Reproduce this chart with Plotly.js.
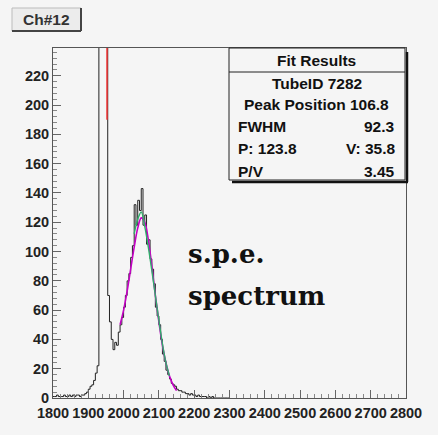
<!DOCTYPE html>
<html><head><meta charset="utf-8">
<script src="https://cdn.plot.ly/plotly-3.0.1.min.js"></script>
<style>html,body{margin:0;padding:0;background:#f5f5f5;}#chart{width:438px;height:435px;}</style>
</head><body><div id="chart"></div>
<script>
// Histogram: 5-channel bins starting at 1800
const binStart = 1800;
const binWidth = 5;
const counts = [
  1,1,2,1,1,1,2,1,1,2,1,2,1,2,2,1,2,2,3,4,
  6,8,9,12,17,22,
  380,1650,2900,1400,310,
  70,52,40,33,38,36,45,50,55,62,
  70,80,85,96,104,132,118,135,128,143,
  118,125,105,108,95,88,78,62,56,50,
  40,30,25,19,16,13,10,9,8,6,
  5,5,4,4,3,3,2,3,2,2,
  1,2,1,1,1,1,0,1,0,1,
  0,0,0,0,0,0,0,0,0
];
// Fit curve 1 (magenta)
const fit1X = [1990,2000,2010,2020,2030,2040,2050,2060,2070,2080,2090,2100,2110,2120,2130,2140,2150];
const fit1Y = [50,60,73,88,103,116,123,120,108,90,70,52,36,24,15,9,5];
// Fit curve 2 (green)
const fit2X = [2030,2040,2050,2060,2070,2080,2090,2100,2110,2120,2130];
const fit2Y = [112,122,127,117,103,87,70,53,37,24,15];
// Red marker line
const markerX = [1953,1953];
const markerY = [190,260];
// Axis ticks
const xTickVals = [1800,1900,2000,2100,2200,2300,2400,2500,2600,2700,2800];
const xTickText = ['1800','1900','2000','2100','2200','2300','2400','2500','2600','2700','2800'];
const yTickVals = [0,20,40,60,80,100,120,140,160,180,200,220];
const yTickText = ['0','20','40','60','80','100','120','140','160','180','200','220'];
// Texts
const buttonLabel = 'Ch#12';
const statTitle = 'Fit Results';
const statRows = [
  ['TubeID 7282', null],
  ['Peak Position 106.8', null],
  ['FWHM', '92.3'],
  ['P: 123.8', 'V: 35.8'],
  ['P/V', '3.45']
];
const noteLines = ['s.p.e.', 'spectrum'];

// step histogram points
const hx = [], hy = [];
for (let i = 0; i < counts.length; i++) { hx.push(binStart + i*binWidth); hy.push(counts[i]); }
hx.push(binStart + counts.length*binWidth); hy.push(counts[counts.length-1]);

// pixel -> paper helpers
const L = 53, R = 406, T = 48, B = 398;
const px = x => (x - L) / (R - L);
const py = y => (B - y) / (B - T);

const traces = [
  {x: hx, y: hy, type: 'scatter', mode: 'lines', line: {shape: 'hv', color: '#222', width: 1}, hoverinfo: 'skip'},
  {x: fit1X, y: fit1Y, type: 'scatter', mode: 'lines', line: {shape: 'spline', color: '#c400c4', width: 1.6}},
  {x: fit2X, y: fit2Y, type: 'scatter', mode: 'lines', line: {shape: 'spline', color: '#2fae6a', width: 1.4}},
  {x: markerX, y: markerY, type: 'scatter', mode: 'lines', line: {color: '#f03030', width: 1.5}}
];

const tickFont = {family: 'Liberation Sans, Arial, sans-serif', size: 14.5, color: '#222', weight: 700};
const boxFont = {family: 'Liberation Sans, Arial, sans-serif', size: 15.5, color: '#111', weight: 700};

const annotations = [];
annotations.push({xref:'paper', yref:'paper', x: px(46), y: py(19.5), text: buttonLabel, showarrow:false, xanchor:'center', yanchor:'middle', font:{family:'Liberation Sans, Arial, sans-serif', size:15.5, color:'#333', weight:700}});
annotations.push({xref:'paper', yref:'paper', x: px(316), y: py(60.5), text: statTitle, showarrow:false, xanchor:'center', yanchor:'middle', font: boxFont});
const rowY = [83, 104, 126, 148, 171];
statRows.forEach((r, i) => {
  if (r[1] === null) {
    annotations.push({xref:'paper', yref:'paper', x: px(i===0 ? 317 : 316), y: py(rowY[i]), text: r[0], showarrow:false, xanchor:'center', yanchor:'middle', font: boxFont});
  } else {
    annotations.push({xref:'paper', yref:'paper', x: px(236), y: py(rowY[i]), text: r[0], showarrow:false, xanchor:'left', yanchor:'middle', font: boxFont});
    annotations.push({xref:'paper', yref:'paper', x: px(397), y: py(rowY[i]), text: r[1], showarrow:false, xanchor:'right', yanchor:'middle', font: boxFont});
  }
});
annotations.push({xref:'paper', yref:'paper', x: px(186), y: py(254), text: noteLines[0], showarrow:false, xanchor:'left', yanchor:'middle', font:{family:'DejaVu Serif, serif', size:26, color:'#111', weight:700}});
annotations.push({xref:'paper', yref:'paper', x: px(186), y: py(296), text: noteLines[1], showarrow:false, xanchor:'left', yanchor:'middle', font:{family:'DejaVu Serif, serif', size:26, color:'#111', weight:700}});

const shapes = [
  // button
  {type:'rect', xref:'paper', yref:'paper', x0:px(12), x1:px(81), y0:py(8), y1:py(31), fillcolor:'#ececec', line:{color:'#bbb', width:1}, layer:'above'},
  {type:'line', xref:'paper', yref:'paper', x0:px(81), x1:px(81), y0:py(8), y1:py(31), line:{color:'#444', width:2}},
  {type:'line', xref:'paper', yref:'paper', x0:px(12), x1:px(81), y0:py(31), y1:py(31), line:{color:'#444', width:2}},
  // stat box
  {type:'rect', xref:'paper', yref:'paper', x0:px(229), x1:px(405), y0:py(48), y1:py(180), fillcolor:'#f5f5f5', line:{color:'#222', width:1}, layer:'above'},
  {type:'line', xref:'paper', yref:'paper', x0:px(229), x1:px(405), y0:py(72), y1:py(72), line:{color:'#222', width:1}},
  {type:'line', xref:'paper', yref:'paper', x0:px(407), x1:px(407), y0:py(52), y1:py(182), line:{color:'#111', width:2.5}},
  {type:'line', xref:'paper', yref:'paper', x0:px(232), x1:px(408), y0:py(182), y1:py(182), line:{color:'#111', width:2.5}}
];

const layout = {
  width: 438, height: 435,
  margin: {l: L, r: 438 - R, t: T, b: 435 - B, pad: 0},
  paper_bgcolor: '#f5f5f5', plot_bgcolor: '#f5f5f5',
  showlegend: false,
  xaxis: {range: [1800, 2800], tickmode: 'array', tickvals: xTickVals, ticktext: xTickText, tickangle: 0,
    ticks: 'inside', ticklen: 8, tickcolor: '#666', showgrid: false, zeroline: false, ticklabelstandoff: 2,
    showline: true, linecolor: '#555', linewidth: 1, mirror: true, tickfont: tickFont,
    minor: {dtick: 20, tick0: 1800, ticks: 'inside', ticklen: 4, tickcolor: '#888', showgrid: false}},
  yaxis: {range: [0, 239], tickmode: 'array', tickvals: yTickVals, ticktext: yTickText,
    ticks: 'inside', ticklen: 8, tickcolor: '#666', showgrid: false, zeroline: false,
    showline: true, linecolor: '#555', linewidth: 1, mirror: true, tickfont: tickFont,
    minor: {dtick: 4, tick0: 0, ticks: 'inside', ticklen: 4, tickcolor: '#888', showgrid: false}},
  shapes: shapes,
  annotations: annotations
};

Plotly.newPlot('chart', traces, layout, {staticPlot: true, displayModeBar: false});
</script>
</body></html>
